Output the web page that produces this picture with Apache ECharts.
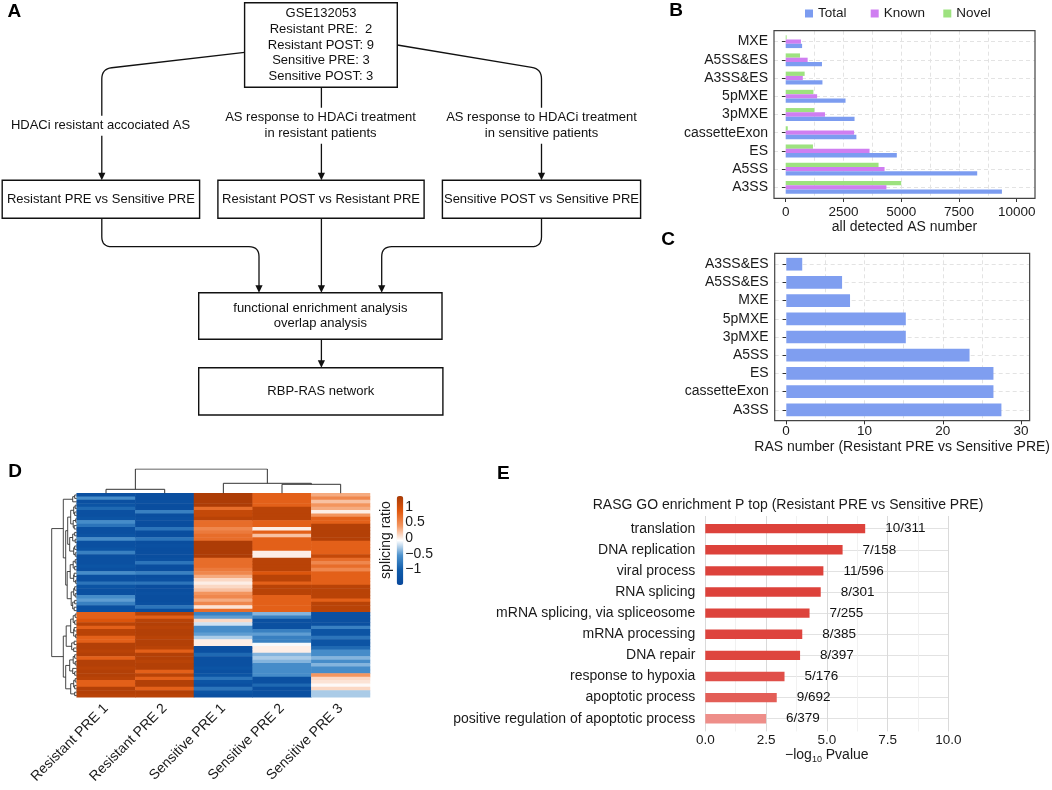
<!DOCTYPE html>
<html><head><meta charset="utf-8">
<script src="https://cdn.jsdelivr.net/npm/echarts@6/dist/echarts.min.js"></script>
<style>html,body{margin:0;padding:0;background:#fff}#c{width:1052px;height:790px}</style>
</head><body><div id="c"></div><script>
const FONT = '"Liberation Sans", Arial, Helvetica, sans-serif';

// ---------- Panel B data (bottom to top) ----------
const asTypesB = ['A3SS','A5SS','ES','cassetteExon','3pMXE','5pMXE','A3SS&ES','A5SS&ES','MXE'];
const totalB = [9360, 8290, 4810, 3060, 2980, 2590, 1590, 1570, 710];
const knownB = [4360, 4280, 3630, 2960, 1700, 1360, 740, 950, 660];
const novelB = [5000, 4020, 1180, 90, 1240, 1200, 820, 620, 40];
const ticksB = [0, 2500, 5000, 7500, 10000];

// ---------- Panel C data (bottom to top) ----------
const asTypesC = ['A3SS','cassetteExon','ES','A5SS','3pMXE','5pMXE','MXE','A5SS&ES','A3SS&ES'];
const rasC = [27, 26, 26, 23, 15, 15, 8, 7, 2];
const ticksC = [0, 10, 20, 30];

// ---------- Panel D data (rows top to bottom) ----------
const samplesD = ['Resistant PRE 1','Resistant PRE 2','Sensitive PRE 1','Sensitive PRE 2','Sensitive PRE 3'];
const res1 = [-1.3,-0.6,-1.3,-1.2,-0.9,-1.3,-1.3,-1.2,-0.6,-0.8,
  -1.3,-1.3,-1.2,-0.6,-1.3,-1.3,-1.2,-0.7,-1.3,-1.3,
  -1.3,-1.2,-1.3,-0.6,-1.3,-1.3,-0.8,-1.2,-1.3,-1.3,
  -0.6,-0.5,-0.7,-1.3,-1.3,
  0.8,0.8,0.9,1.2,0.8,1.2,1.2,0.8,0.8,1.25,
  1.25,1.2,1.25,0.8,1.25,1.25,1.2,1.25,1.25,1.2,
  0.8,0.8,1.25,1.25,1.2];
const res2 = [-1.35,-1.35,-1.3,-1.35,-1.35,-0.7,-1.35,-1.3,-1.35,-1.35,
  -0.8,-1.35,-1.35,-0.8,-1.35,-1.3,-1.35,-1.35,-1.35,-1.3,
  -0.8,-1.35,-1.35,-0.7,-1.35,-1.3,-0.8,-1.35,-1.35,-1.3,
  -1.35,-1.35,-1.3,-0.8,-1.35,
  1.2,0.8,1.2,1.25,1.2,1.25,1.25,1.2,1.25,1.25,
  1.2,0.8,1.25,1.25,1.2,1.25,1.25,0.8,1.2,0.8,
  1.25,1.25,0.8,1.25,1.2];
const sens1 = [1.3,1.3,1.3,1.3,0.7,1.1,1.1,1.2,0.7,0.7,
  0.5,0.6,0.7,0.7,1.3,1.3,1.3,1.3,1.3,0.7,
  0.7,0.7,0.6,0.5,0.3,0.1,0.0,0.1,0.2,0.4,
  0.5,0.3,0.5,0.05,0.7,
  -0.7,-0.5,0.1,-0.2,-0.6,-0.6,-0.5,-0.3,0.0,0.0,
  -1.3,-1.3,-0.9,-1.3,-1.3,-1.3,-1.2,-1.3,-1.2,-0.8,
  -1.2,-1.3,-0.8,-1.2,-1.3];
const sens2 = [0.8,0.8,0.8,0.8,1.2,1.2,1.2,1.2,0.8,0.8,
  0.0,0.8,0.2,0.8,0.8,0.8,0.8,0.0,0.0,1.2,
  1.2,1.2,1.2,0.9,1.2,1.2,0.8,1.2,1.2,1.2,
  0.8,0.8,0.8,0.8,0.8,
  -0.4,-0.7,-1.3,-1.3,-1.3,-0.7,-0.5,-0.7,-0.7,-0.1,
  0.0,0.0,-0.4,-0.3,-0.4,-0.6,-0.6,-0.6,-0.6,-1.3,
  -1.3,-0.9,-1.3,-1.3,-1.3];
const sens3 = [0.3,0.5,0.2,0.4,0.3,0.0,0.4,0.8,0.8,1.25,
  1.25,1.25,1.25,1.25,0.8,0.8,0.8,0.8,1.1,0.7,
  0.5,0.7,0.5,0.8,0.8,0.8,0.8,1.2,1.2,1.2,
  1.2,0.8,1.2,1.2,1.2,
  -1.3,-1.3,-1.3,-1.3,-0.7,-1.2,-1.2,-0.8,-1.2,-1.2,
  -0.9,-0.6,-0.6,-0.4,-0.6,-0.4,-0.6,-0.6,0.4,0.1,
  0.05,-0.05,0.1,-0.3,-0.3];
// dendrograms: [height, left, right]; leaves are indices
const colTree = [24.3, [4, 0, 1], [10, 2, [9, 3, 4]]];
const rowTree = [25,
 [13.4,
   [4, [2, 0, 1], 2],
   [11,
     [9,
       [6, [3, [1.5, 3, 4], [2, 5, 6]], [3.5, [1, 7, 8], [2.5, 9, 10]]],
       [7, [4, [2, 11, 12], [1.5, 13, 14]], [3, [2, 15, 16], [1.5, 17, 18]]]],
     [9.5,
       [6.5, [3.5, [1.5, 19, 20], [2, 21, 22]], [3, [2.5, 23, 24], [1, 25, 26]]],
       [5.5, [3, [2, 27, 28], [1.5, 29, 30]], [4, [2, 31, 32], [2.5, 33, 34]]]]]],
 [13.4,
   [10.5,
     [6, [3.5, [1.5, 35, 36], [2, 37, 38]], [3, [2.5, 39, 40], [1, 41, 42]]],
     [5, [2.5, 43, 44], [3, 45, 46]]],
   [11,
     [7, [3.5, [2, 47, 48], [1.5, 49, 50]], [4, 51, [2, 52, 53]]],
     [6, [3, [1.5, 54, 55], [2, 56, 57]], [2, 58, 59]]]]];
const colorTicksD = [-1, -0.5, 0, 0.5, 1];
const colorRangeD = [-1.49, 1.34];

// ---------- Panel E data (top to bottom) ----------
const goTerms = ['translation','DNA replication','viral process','RNA splicing','mRNA splicing, via spliceosome','mRNA processing','DNA repair','response to hypoxia','apoptotic process','positive regulation of apoptotic process'];
const goLogP = [6.58, 5.65, 4.86, 4.75, 4.29, 3.99, 3.90, 3.26, 2.94, 2.50];
const goRatio = ['10/311','7/158','11/596','8/301','7/255','8/385','8/397','5/176','9/692','6/379'];
const ticksE = [0, 2.5, 5, 7.5, 10];

// ---------- helpers ----------
const TXT = '#1a1a1a';
const GRIDC = '#e3e3e3';
const rowCount = res1.length;
const heatCols = [res1, res2, sens1, sens2, sens3];
const heatData = [];
heatCols.forEach((col, c) => col.forEach((v, r) => heatData.push([c, r, v])));
const rowsD = res1.map((_, i) => String(i));

function treeLines(tree, horizontalLeaves) {
  const segs = [];
  function walk(node) {
    if (typeof node === 'number') return { pos: node + 0.5, h: 0 };
    const L = walk(node[1]), R = walk(node[2]), h = node[0];
    if (horizontalLeaves) segs.push({ coords: [[L.pos, L.h], [L.pos, h], [R.pos, h], [R.pos, R.h]] });
    else segs.push({ coords: [[L.h, L.pos], [h, L.pos], [h, R.pos], [R.h, R.pos]] });
    return { pos: (L.pos + R.pos) / 2, h };
  }
  walk(tree);
  return segs;
}

function mix(c1, c2, t) {
  const a = parseInt(c1.slice(1), 16), b = parseInt(c2.slice(1), 16);
  const ch = (s) => Math.round(((a >> s) & 255) * (1 - t) + ((b >> s) & 255) * t);
  return 'rgb(' + ch(16) + ',' + ch(8) + ',' + ch(0) + ')';
}
const pMax = Math.pow(10, -Math.min(...goLogP));

// frame value axes with custom ticks
function frameX(gi, min, max, step, ticks, name, gap, margin) {
  return {
    type: 'value', gridIndex: gi, min, max, minInterval: step, maxInterval: step,
    axisLine: { show: false },
    axisTick: { show: true, length: 3.7, customValues: ticks, lineStyle: { color: '#333' } },
    axisLabel: { customValues: ticks, margin, fontSize: 13.5, color: TXT, fontFamily: FONT,
      formatter: (v) => ticks.includes(v) ? String(v) : '' },
    splitLine: { show: true, showMinLine: false, showMaxLine: false, lineStyle: { color: GRIDC, type: [4, 3], width: 1 } },
    minorTick: { show: false, splitNumber: 2 },
    minorSplitLine: { show: true, lineStyle: { color: GRIDC, type: [4, 3], width: 1 } },
    name, nameLocation: 'middle', nameGap: gap,
    nameTextStyle: { fontSize: 14, color: TXT, fontFamily: FONT }
  };
}
function frameY(gi, min, max, dashed, color) {
  return {
    type: 'value', gridIndex: gi, min, max, minInterval: 1, maxInterval: 1,
    axisLine: { show: false }, axisTick: { show: false }, axisLabel: { show: false },
    splitLine: { show: true, showMinLine: false, showMaxLine: false,
      lineStyle: { color: color, type: dashed ? [4, 3] : 'solid', width: 1 } }
  };
}
function catY(gi, data, opts) {
  return Object.assign({
    type: 'category', gridIndex: gi, data,
    axisLine: { show: false },
    axisTick: { show: true, alignWithLabel: true, interval: 0, length: 3.7, lineStyle: { color: '#333' } },
    axisLabel: { fontSize: 14, color: TXT, margin: 6, interval: 0, fontFamily: FONT },
    splitLine: { show: false }
  }, opts || {});
}
function hiddenVal(gi, min, max, extra) {
  return Object.assign({ type: 'value', gridIndex: gi, min, max, show: false, splitLine: { show: false } }, extra || {});
}

// ---------- Panel A flowchart (graphic) ----------
const flowBoxes = [
  { x: 244.6, y: 2.7, w: 152.7, h: 84.6, text: 'GSE132053\nResistant PRE:  2\nResistant POST: 9\nSensitive PRE: 3\nSensitive POST: 3', lh: 15.8 },
  { x: 2.2, y: 180.3, w: 197.4, h: 38, text: 'Resistant PRE vs Sensitive PRE', lh: 16 },
  { x: 217.9, y: 180.3, w: 206.2, h: 38, text: 'Resistant POST vs Resistant PRE', lh: 16 },
  { x: 442.4, y: 180.3, w: 198.2, h: 38, text: 'Sensitive POST vs Sensitive PRE', lh: 16 },
  { x: 198.7, y: 292.7, w: 243.3, h: 46.6, text: 'functional enrichment analysis\noverlap analysis', lh: 15.7 },
  { x: 198.7, y: 367.7, w: 244.2, h: 47.3, text: 'RBP-RAS network', lh: 16 }
];
const flowLinks = [
  [[244.6, 52.3], [101.8, 68.9], [101.8, 180.3]],
  [[321.4, 87.3], [321.4, 180.3]],
  [[397.3, 45], [541.5, 68.9], [541.5, 180.3]],
  [[101.8, 218.3], [101.8, 246.7], [259, 246.7], [259, 292.7]],
  [[321.4, 218.3], [321.4, 292.7]],
  [[541.5, 218.3], [541.5, 246.7], [381.7, 246.7], [381.7, 292.7]],
  [[321.4, 339.3], [321.4, 367.7]]
];
const flowLabels = [
  { x: 100.5, y: 125.7, text: 'HDACi resistant accociated AS' },
  { x: 320.5, y: 125.7, text: 'AS response to HDACi treatment\nin resistant patients' },
  { x: 541.5, y: 125.7, text: 'AS response to HDACi treatment\nin sensitive patients' }
];
const panelLetters = [
  { t: 'A', x: 14.3, y: 11.7 }, { t: 'B', x: 676, y: 10.7 }, { t: 'C', x: 668, y: 240 },
  { t: 'D', x: 15, y: 471.7 }, { t: 'E', x: 503.4, y: 474 }
];

function rounded(pts, r) {
  const out = [pts[0]];
  for (let i = 1; i < pts.length - 1; i++) {
    const [px, py] = pts[i - 1], [cx, cy] = pts[i], [nx, ny] = pts[i + 1];
    const d1 = Math.hypot(cx - px, cy - py), d2 = Math.hypot(nx - cx, ny - cy);
    const a = [cx + (px - cx) * r / d1, cy + (py - cy) * r / d1];
    const b = [cx + (nx - cx) * r / d2, cy + (ny - cy) * r / d2];
    for (let k = 0; k <= 8; k++) {
      const t = k / 8;
      out.push([(1 - t) * (1 - t) * a[0] + 2 * (1 - t) * t * cx + t * t * b[0],
                (1 - t) * (1 - t) * a[1] + 2 * (1 - t) * t * cy + t * t * b[1]]);
    }
  }
  out.push(pts[pts.length - 1]);
  return out;
}

const gEls = [];
flowLinks.forEach((pts) => {
  const tip = pts[pts.length - 1];
  const body = pts.slice(0, -1).concat([[tip[0], tip[1] - 6]]);
  gEls.push({ type: 'polyline', shape: { points: rounded(body, 10) }, style: { stroke: '#111', lineWidth: 1.3, fill: null }, z: 1 });
  gEls.push({ type: 'polygon', shape: { points: [[tip[0] - 3.6, tip[1] - 7.5], [tip[0] + 3.6, tip[1] - 7.5], [tip[0], tip[1]]] }, style: { fill: '#111' }, z: 1 });
});
flowBoxes.forEach((b) => {
  gEls.push({ type: 'rect', shape: { x: b.x, y: b.y, width: b.w, height: b.h }, style: { fill: '#fff', stroke: '#111', lineWidth: 1.4 }, z: 2 });
  gEls.push({ type: 'text', z: 3, style: { text: b.text, x: b.x + b.w / 2, y: b.y + b.h / 2, align: 'center', verticalAlign: 'middle', textAlign: 'center', textVerticalAlign: 'middle', lineHeight: b.lh, fontSize: 13, fontFamily: FONT, fill: '#111' } });
});
flowLabels.forEach((l) => {
  gEls.push({ type: 'text', z: 3, style: { text: l.text, x: l.x, y: l.y, align: 'center', verticalAlign: 'middle', textAlign: 'center', textVerticalAlign: 'middle', lineHeight: 16, fontSize: 13, fontFamily: FONT, fill: '#111', backgroundColor: '#fff', padding: [2, 2] } });
});
panelLetters.forEach((p) => {
  gEls.push({ type: 'text', z: 3, style: { text: p.t, x: p.x, y: p.y, align: 'center', verticalAlign: 'middle', textAlign: 'center', textVerticalAlign: 'middle', fontSize: 19, fontWeight: 'bold', fontFamily: FONT, fill: '#000' } });
});
// Panel D colour-bar title, Panel E title
gEls.push({ type: 'text', z: 3, x: 386.5, y: 540, rotation: Math.PI / 2, style: { text: 'splicing ratio', x: 0, y: 0, align: 'center', verticalAlign: 'middle', textAlign: 'center', textVerticalAlign: 'middle', fontSize: 14, fontFamily: FONT, fill: TXT } });
gEls.push({ type: 'text', z: 3, style: { text: 'RASG GO enrichment P top (Resistant PRE vs Sensitive PRE)', x: 788, y: 505, align: 'center', verticalAlign: 'middle', textAlign: 'center', textVerticalAlign: 'middle', fontSize: 14, fontFamily: FONT, fill: TXT } });

// ---------- layout (px) ----------
const B = { l: 774, t: 30.7, w: 261, h: 167.6 };
const Cf = { l: 774.7, t: 253.3, w: 259.3, h: 167.4 };
const insB = B.h / 9.2 * 0.1, insC = Cf.h / 9.2 * 0.1;
const Eg = { l: 705.3, t: 516, w: 243, h: 215.4 };
const insE = Eg.h / 10.2 * 0.1;
const Dh = { l: 76.7, t: 493.3, w: 293.3, h: 204 };

const grids = [
  { left: B.l, top: B.t, width: B.w, height: B.h, show: true, borderColor: '#444', borderWidth: 1.2, backgroundColor: 'transparent', z: 5 }, //0
  { left: B.l, top: B.t + insB, width: B.w, height: B.h - 2 * insB }, //1
  { left: Cf.l, top: Cf.t, width: Cf.w, height: Cf.h, show: true, borderColor: '#444', borderWidth: 1.2, backgroundColor: 'transparent', z: 5 }, //2
  { left: Cf.l, top: Cf.t + insC, width: Cf.w, height: Cf.h - 2 * insC }, //3
  { left: Dh.l, top: Dh.t, width: Dh.w, height: Dh.h }, //4 heatmap
  { left: Dh.l, top: 469, width: Dh.w, height: 24.3 }, //5 col dendro
  { left: 51.7, top: Dh.t, width: 25, height: Dh.h }, //6 row dendro
  { left: 396.7, top: 496, width: 6.6, height: 89 }, //7 colour bar axis
  { left: Eg.l, top: Eg.t, width: Eg.w, height: Eg.h }, //8 E frame
  { left: Eg.l, top: Eg.t + insE, width: Eg.w, height: Eg.h - 2 * insE } //9 E data
];

const xAxes = [
  frameX(0, -506.5, 10792, 2500, ticksB, 'all detected AS number', 22, 6.5),
  hiddenVal(1, -506.5, 10792),
  frameX(2, -1.456, 31.09, 10, ticksC, 'RAS number (Resistant PRE vs Sensitive PRE)', 19, 4),
  hiddenVal(3, -1.456, 31.09),
  { type: 'category', gridIndex: 4, data: samplesD, axisLine: { show: false }, axisTick: { show: false },
    axisLabel: { rotate: 45, fontSize: 14, color: TXT, margin: 9, interval: 0, fontFamily: FONT }, splitLine: { show: false } },
  hiddenVal(5, 0, 5),
  hiddenVal(6, 0, 25, { inverse: true }),
  hiddenVal(7, 0, 1),
  { type: 'value', gridIndex: 8, min: 0, max: 10, interval: 2.5,
    axisLine: { show: false }, axisTick: { show: false },
    axisLabel: { margin: 2, fontSize: 13.5, color: TXT, fontFamily: FONT, formatter: (v) => v.toFixed(1) },
    splitLine: { show: true, lineStyle: { color: '#dadada', width: 1 } },
    minorTick: { show: false, splitNumber: 2 },
    minorSplitLine: { show: true, lineStyle: { color: '#ededed', width: 0.8 } },
    name: '\u2212log{sub|10} Pvalue', nameLocation: 'middle', nameGap: 15,
    nameTextStyle: { fontSize: 14, color: TXT, fontFamily: FONT, rich: { sub: { fontSize: 9, verticalAlign: 'bottom', padding: [8, 0, 0, 0], fontFamily: FONT, color: TXT } } } },
  hiddenVal(9, 0, 10)
];

const yAxes = [
  frameY(0, 0.4, 9.6, true, GRIDC),
  catY(1, asTypesB),
  frameY(2, 0.4, 9.6, true, GRIDC),
  catY(3, asTypesC),
  { type: 'category', gridIndex: 4, data: rowsD, inverse: true, show: false },
  hiddenVal(5, 0, 24.3),
  hiddenVal(6, 0, rowCount, { inverse: true }),
  { type: 'value', gridIndex: 7, position: 'right', min: colorRangeD[0], max: colorRangeD[1], minInterval: 0.5, maxInterval: 0.5,
    axisLine: { show: false }, axisTick: { show: false }, splitLine: { show: false },
    axisLabel: { customValues: colorTicksD, margin: 2, fontSize: 14, color: TXT, fontFamily: FONT,
      formatter: (v) => colorTicksD.includes(v) ? String(v).replace('-', '\u2212') : '' } },
  { type: 'value', gridIndex: 8, min: 0.4, max: 10.6, minInterval: 1, maxInterval: 1,
    axisLine: { show: false }, axisTick: { show: false }, axisLabel: { show: false },
    splitLine: { show: true, showMinLine: false, showMaxLine: false, lineStyle: { color: '#e2e2e2', width: 1 } } },
  catY(9, goTerms, { inverse: true, axisTick: { show: false }, axisLabel: { fontSize: 14, color: TXT, margin: 10, interval: 0, fontFamily: FONT } })
];

const series = [
  { name: 'Novel', type: 'bar', xAxisIndex: 1, yAxisIndex: 1, data: novelB, barWidth: 4.3, barGap: '0%', itemStyle: { color: '#9de27f' } },
  { name: 'Known', type: 'bar', xAxisIndex: 1, yAxisIndex: 1, data: knownB, barWidth: 4.3, barGap: '0%', itemStyle: { color: '#cf7ef1' } },
  { name: 'Total', type: 'bar', xAxisIndex: 1, yAxisIndex: 1, data: totalB, barWidth: 4.3, barGap: '0%', itemStyle: { color: '#7c9cf0' } },
  { name: 'RAS', type: 'bar', xAxisIndex: 3, yAxisIndex: 3, data: rasC, barWidth: 12.7, itemStyle: { color: '#7f9ef0' } },
  { name: 'heat', type: 'heatmap', xAxisIndex: 4, yAxisIndex: 4, data: heatData, itemStyle: { borderWidth: 0 }, emphasis: { disabled: true }, progressive: 0 },
  { name: 'colTree', type: 'lines', coordinateSystem: 'cartesian2d', xAxisIndex: 5, yAxisIndex: 5, polyline: true, silent: true,
    data: treeLines(colTree, true), lineStyle: { color: '#333', width: 1, opacity: 1 } },
  { name: 'rowTree', type: 'lines', coordinateSystem: 'cartesian2d', xAxisIndex: 6, yAxisIndex: 6, polyline: true, silent: true,
    data: treeLines(rowTree, false), lineStyle: { color: '#333', width: 0.9, opacity: 1 } },
  { name: 'GO', type: 'bar', xAxisIndex: 9, yAxisIndex: 9, data: goLogP, barWidth: 9.4,
    itemStyle: { color: (p) => mix('#dd423b', '#ee8e89', Math.pow(10, -p.value) / pMax) },
    label: { show: true, position: 'right', distance: 20, fontSize: 13.5, color: '#111', fontFamily: FONT,
      formatter: (p) => goRatio[p.dataIndex] } }
];

const legendBase = { top: 6.5, itemWidth: 8, itemHeight: 8, icon: 'rect', padding: 0, itemGap: 0, selectedMode: false,
  textStyle: { fontSize: 13.5, color: TXT, fontFamily: FONT } };
const legend = [
  Object.assign({}, legendBase, { data: ['Total'], left: 805 }),
  Object.assign({}, legendBase, { data: ['Known'], left: 870.7 }),
  Object.assign({}, legendBase, { data: ['Novel'], left: 943.3 })
];

const chart = echarts.init(document.getElementById('c'), null, { renderer: 'canvas' });
chart.setOption({
  animation: false,
  backgroundColor: '#fff',
  textStyle: { fontFamily: FONT },
  grid: grids, xAxis: xAxes, yAxis: yAxes, series, legend,
  visualMap: [{ type: 'continuous', seriesIndex: 4, min: colorRangeD[0], max: colorRangeD[1], calculable: false,
    left: 396.7, top: 496, itemWidth: 6.6, itemHeight: 89, padding: 0, hoverLink: false,
    inRange: { color: ['#08489b', '#0f5ba9', '#4d92cd', '#ffffff', '#f3955f', '#e0570d', '#a83a05'] } }],
  graphic: { elements: gEls }
});
</script></body></html>
